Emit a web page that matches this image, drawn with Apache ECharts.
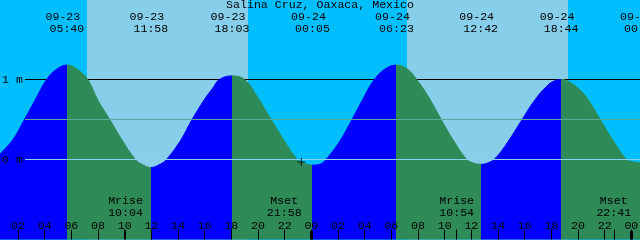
<!DOCTYPE html>
<html><head><meta charset="utf-8">
<script src="https://cdn.jsdelivr.net/npm/echarts@6/dist/echarts.min.js"></script>
<style>html,body{margin:0;padding:0;background:#00BFFF;}#c{width:640px;height:240px;}</style>
</head><body><div id="c"></div>
<script>
const chartTitle = 'Salina Cruz, Oaxaca, Mexico';
// time in hours since 09-23 00:00, height in metres
const tideTimes = [0.65, 1.625, 2.45, 3.275, 4.15, 4.92, 5.667,
  6.42, 7.23, 8.0, 8.92, 9.78, 10.8, 11.25, 11.967,
  12.7, 13.14, 14.2, 15.02, 16.02, 16.6, 17.1, 18.05,
  19.0, 20.0, 21.02, 21.95, 22.89, 23.4, 24.083,
  24.65, 25.1, 26.14, 27.02, 27.79, 28.64, 29.52, 30.383,
  31.2, 31.9, 32.8, 33.77, 34.69, 35.65, 36.1, 36.7,
  37.2, 37.77, 38.74, 39.77, 40.77, 41.74, 42.2, 42.733,
  43.3, 44.2, 44.75, 45.7, 46.62, 47.65, 48.2, 48.75];
const tideHeights = [0.07, 0.25, 0.49, 0.74, 1.0, 1.13, 1.18,
  1.13, 1.0, 0.74, 0.49, 0.25, 0.0, -0.055, -0.10,
  -0.055, 0.0, 0.24, 0.49, 0.76, 0.89, 1.0, 1.045,
  1.0, 0.77, 0.49, 0.24, 0.01, -0.04, -0.07,
  -0.06, 0.0, 0.23, 0.49, 0.73, 0.98, 1.13, 1.18,
  1.13, 1.0, 0.78, 0.49, 0.23, 0.0, -0.04, -0.06,
  -0.045, 0.01, 0.22, 0.49, 0.745, 0.93, 0.98, 1.0,
  0.975, 0.86, 0.75, 0.49, 0.24, 0.0, -0.03, -0.04];
const eventTimes = [5.667, 11.967, 18.05, 24.083, 30.383, 36.7, 42.733, 48.75];
const eventKinds = ['high', 'low', 'high', 'low', 'high', 'low', 'high', 'low'];
const eventDates = ['09-23', '09-23', '09-23', '09-24', '09-24', '09-24', '09-24', '09-25'];
const eventClock = ['05:40', '11:58', '18:03', '00:05', '06:23', '12:42', '18:44', '00:45'];
const moonTimes = [10.067, 21.967, 34.9, 46.683];
const moonNames = ['Mrise', 'Mset', 'Mrise', 'Mset'];
const moonClock = ['10:04', '21:58', '10:54', '22:41'];
const sunriseTimes = [7.175, 31.175];
const sunsetTimes = [19.25, 43.25];
const hourTicks = [2, 4, 6, 8, 10, 12, 14, 16, 18, 20, 22, 24, 26, 28, 30, 32, 34, 36, 38, 40, 42, 44, 46, 48];
const midnightTicks = [24, 48];
const levelLabels = [0, 1];
const nowMark = [23.25, -0.03];
const viewStart = 0.65, viewEnd = 50.15, lineStart = 2.525;

const FONT = 'Liberation Mono';
const FS = 11.6;
const BLUE = '#0000FF', GREEN = '#2E8B57';

function near(list, v) {
  let best = 0;
  for (let i = 1; i < list.length; i++) if (Math.abs(list[i] - v) < Math.abs(list[best] - v)) best = i;
  return best;
}
const pieces = [];
const colFor = k => (k === 'high' ? BLUE : GREEN);
pieces.push({ max: eventTimes[0], color: colFor(eventKinds[0]) });
for (let i = 0; i < eventTimes.length - 1; i++) {
  pieces.push({ min: eventTimes[i], max: eventTimes[i + 1], color: colFor(eventKinds[i + 1]) });
}
pieces.push({ min: eventTimes[eventTimes.length - 1], color: eventKinds[eventKinds.length - 1] === 'high' ? GREEN : BLUE });

const bands = sunriseTimes.map((s, i) => [{ xAxis: s }, { xAxis: sunsetTimes[i] }]);
const baseX = { type: 'value', min: viewStart, max: viewEnd, gridIndex: 0, z: 10,
  axisLine: { show: false, onZero: false }, splitLine: { show: false }, axisTick: { show: false },
  axisLabel: { show: false }, axisPointer: { show: false } };

const chart = echarts.init(document.getElementById('c'), null, { renderer: 'canvas' });
chart.setOption({
  animation: false,
  backgroundColor: '#00BFFF',
  title: { text: chartTitle, left: 'center', top: -1, padding: 0,
    textStyle: { fontFamily: FONT, fontSize: FS, fontWeight: 'normal', color: '#000' } },
  grid: { left: 0, right: -20, top: -0.5, bottom: 0.5, containLabel: false, outerBoundsMode: 'none' },
  xAxis: [
    Object.assign({}, baseX, {
      position: 'bottom',
      axisTick: { show: true, inside: true, length: 10, customValues: hourTicks.concat(moonTimes),
        lineStyle: { color: '#000', width: 1 } },
      axisLabel: { show: true, inside: true, margin: 8, customValues: hourTicks,
        fontFamily: FONT, fontSize: FS, color: '#000', lineHeight: 12,
        formatter: v => String(Math.round(v) % 24).padStart(2, '0') }
    }),
    Object.assign({}, baseX, {
      position: 'top',
      axisLabel: { show: true, inside: true, margin: 11.2, customValues: eventTimes,
        fontFamily: FONT, fontSize: FS, color: '#000', lineHeight: 12.4,
        formatter: v => { const i = near(eventTimes, v); return '{d|' + eventDates[i] + '}\n{t|' + eventClock[i] + '}'; },
        rich: { d: { fontFamily: FONT, fontSize: FS, lineHeight: 12.4, padding: [0, 8, 0, 0], color: '#000' },
                t: { fontFamily: FONT, fontSize: FS, lineHeight: 12.4, color: '#000' } } }
    }),
    Object.assign({}, baseX, {
      position: 'bottom',
      axisTick: { show: true, inside: true, length: 8.5, customValues: midnightTicks,
        lineStyle: { color: '#000', width: 3 } }
    }),
    Object.assign({}, baseX, {
      position: 'bottom',
      axisLabel: { show: true, inside: true, margin: 21, customValues: moonTimes,
        fontFamily: FONT, fontSize: FS, color: '#000', lineHeight: 11.5,
        formatter: v => { const i = near(moonTimes, v); return moonNames[i] + '\n' + moonClock[i]; } }
    })
  ],
  yAxis: { type: 'value', min: -1, max: 2, position: 'left', z: 10,
    axisLine: { show: false, onZero: false }, axisTick: { show: false }, splitLine: { show: false },
    axisLabel: { show: true, inside: true, margin: 2, customValues: levelLabels,
      showMinLabel: true, showMaxLabel: true,
      fontFamily: FONT, fontSize: FS, color: '#000', formatter: '{value} m' } },
  visualMap: { type: 'piecewise', show: false, dimension: 0, seriesIndex: 1, pieces: pieces },
  series: [
    { type: 'line', name: 'one', z: 1, silent: true, symbol: 'none', xAxisIndex: 0,
      data: [[lineStart, 1], [viewEnd, 1]], lineStyle: { color: '#000', width: 1 },
      markArea: { silent: true, z: 0, itemStyle: { color: '#87CEEB' }, data: bands } },
    { type: 'line', name: 'tide', z: 2, silent: true, symbol: 'none', xAxisIndex: 0,
      smooth: 0.4,
      data: tideTimes.map((t, i) => [t, tideHeights[i]]),
      lineStyle: { width: 1 }, areaStyle: { opacity: 1, origin: 'start' } },
    { type: 'line', name: 'half', z: 3, silent: true, symbol: 'none', xAxisIndex: 0,
      data: [[lineStart, 0.5], [viewEnd, 0.5]], lineStyle: { color: '#5AA89C', width: 1 } },
    { type: 'line', name: 'zero', z: 3, silent: true, symbol: 'none', xAxisIndex: 0,
      data: [[lineStart, 0], [viewEnd, 0]], lineStyle: { color: '#8CD0F0', width: 1 } },
    { type: 'scatter', name: 'now', z: 4, silent: true, xAxisIndex: 0,
      symbol: 'path://M3.5,0h1v3.5h3.5v1h-3.5v3.5h-1v-3.5h-3.5v-1h3.5z', symbolSize: 8,
      itemStyle: { color: '#000' }, data: [nowMark] }
  ]
});
</script></body></html>
